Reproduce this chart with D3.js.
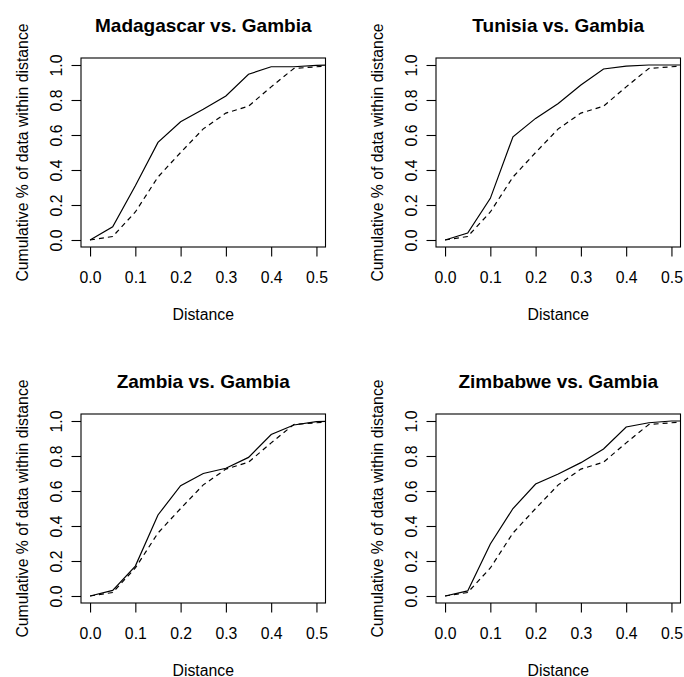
<!DOCTYPE html>
<html>
<head>
<meta charset="utf-8">
<script src="https://cdn.jsdelivr.net/npm/d3@7/dist/d3.min.js"></script>
<style>
  body { margin: 0; background: #fff; }
  text { font-family: "Liberation Sans", Arial, Helvetica, sans-serif; fill: #000; }
</style>
</head>
<body>
<div id="chartDiv"></div>
<script>
var width = 684,
    height = 677;

// distances (x) shared by every panel
var distances = [0, 0.05, 0.1, 0.15, 0.2, 0.25, 0.3, 0.35, 0.4, 0.45, 0.5, 0.55];

// Gambia reference curve (dashed), same in all four panels
var gambia = [0, 0.02, 0.16, 0.36, 0.50, 0.635, 0.725, 0.765, 0.875, 0.98, 0.99, 1.0];

// country curves (solid)
var countries = ["Madagascar", "Tunisia", "Zambia", "Zimbabwe"];
var madagascar = [0, 0.076, 0.31, 0.558, 0.676, 0.747, 0.823, 0.947, 0.99, 0.99, 0.998, 1.0];
var tunisia    = [0, 0.04, 0.238, 0.59, 0.695, 0.78, 0.886, 0.977, 0.994, 1.0, 1.0, 1.0];
var zambia     = [0, 0.032, 0.171, 0.463, 0.63, 0.70, 0.73, 0.792, 0.923, 0.977, 0.996, 1.0];
var zimbabwe   = [0, 0.029, 0.297, 0.50, 0.64, 0.697, 0.762, 0.84, 0.966, 0.99, 1.0, 1.0];
var series = [madagascar, tunisia, zambia, zimbabwe];

var xTicks = [0, 0.1, 0.2, 0.3, 0.4, 0.5];
var yTicks = [0, 0.2, 0.4, 0.6, 0.8, 1.0];

// plot boxes of the 2x2 layout
var panels = [
    {left: 81, top: 58},
    {left: 436, top: 58},
    {left: 81, top: 414},
    {left: 436, top: 414}
];
var boxW = 244.5, boxH = 189;

var svg = d3.select("#chartDiv")
    .append("svg")
    .attr("width", width)
    .attr("height", height);

var x = d3.scaleLinear().domain([-0.02, 0.52]).range([0, boxW]);
var y = d3.scaleLinear().domain([-0.04, 1.04]).range([boxH, 0]);

var line = d3.line()
    .x(function (d) { return x(d[0]); })
    .y(function (d) { return y(d[1]); });

panels.forEach(function (p, i) {
    var g = svg.append("g")
        .attr("transform", "translate(" + p.left + "," + p.top + ")");

    g.append("clipPath").attr("id", "clip" + i)
        .append("rect").attr("width", boxW).attr("height", boxH);

    var plot = g.append("g").attr("clip-path", "url(#clip" + i + ")");

    plot.append("path")
        .datum(distances.map(function (d, j) { return [d, series[i][j]]; }))
        .attr("d", line)
        .attr("fill", "none")
        .attr("stroke", "#000")
        .attr("stroke-width", 1.2);

    plot.append("path")
        .datum(distances.map(function (d, j) { return [d, gambia[j]]; }))
        .attr("d", line)
        .attr("fill", "none")
        .attr("stroke", "#000")
        .attr("stroke-width", 1.2)
        .attr("stroke-dasharray", "5,4");

    // box
    g.append("rect")
        .attr("width", boxW)
        .attr("height", boxH)
        .attr("fill", "none")
        .attr("stroke", "#000")
        .attr("stroke-width", 1.1);

    // x axis
    var xa = g.append("g")
        .attr("transform", "translate(0," + boxH + ")")
        .call(d3.axisBottom(x).tickValues(xTicks).tickSize(9.5).tickFormat(d3.format(".1f")));
    xa.select(".domain").remove();
    xa.selectAll("line").attr("stroke-width", 1.1);
    xa.selectAll("text")
        .attr("y", 36).attr("dy", 0)
        .style("font-size", "15.8px")
        .style("font-family", "Liberation Sans, Arial, sans-serif")
        .attr("fill", "#000");

    // y axis
    var ya = g.append("g")
        .call(d3.axisLeft(y).tickValues(yTicks).tickSize(9.5).tickFormat(d3.format(".1f")));
    ya.select(".domain").remove();
    ya.selectAll("line").attr("stroke-width", 1.1);
    ya.selectAll("text")
        .attr("x", 0).attr("y", -19).attr("dy", 0)
        .attr("transform", "rotate(-90)")
        .attr("text-anchor", "middle")
        .style("font-size", "15.8px")
        .style("font-family", "Liberation Sans, Arial, sans-serif")
        .attr("fill", "#000");

    // title
    g.append("text")
        .attr("x", boxW / 2)
        .attr("y", -26.5)
        .attr("text-anchor", "middle")
        .style("font-size", "19px")
        .style("font-weight", "bold")
        .text(countries[i] + " vs. Gambia");

    // axis labels
    g.append("text")
        .attr("x", boxW / 2)
        .attr("y", boxH + 72.5)
        .attr("text-anchor", "middle")
        .style("font-size", "15.8px")
        .text("Distance");

    g.append("text")
        .attr("transform", "translate(-53," + (boxH / 2) + ") rotate(-90)")
        .attr("text-anchor", "middle")
        .style("font-size", "15.8px")
        .text("Cumulative % of data within distance");
});
</script>
</body>
</html>
